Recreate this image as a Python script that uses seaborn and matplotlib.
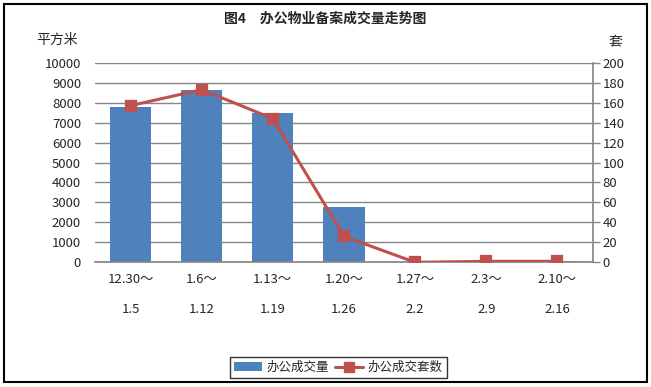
import numpy as np
import pandas as pd
import seaborn as sns
import matplotlib.pyplot as plt
from matplotlib.lines import Line2D
from matplotlib.patches import Patch, Rectangle

# data
periods = ['12.30～\n\n1.5', '1.6～\n\n1.12', '1.13～\n\n1.19', '1.20～\n\n1.26',
           '1.27～\n\n2.2', '2.3～\n\n2.9', '2.10～\n\n2.16']
area = [7780, 8650, 7500, 2790, 0, 0, 60]      # 平方米
units = [157, 173, 144, 26, 0, 1, 1]           # 套

sns.set_theme(style='white')
plt.rcParams['font.family'] = ['Noto Sans CJK SC', 'DejaVu Sans']

bar_color = '#4F81BD'
line_color = '#C0504D'
grid_color = '#868686'

df = pd.DataFrame({'period': periods, 'area': area, 'units': units})

fig = plt.figure(figsize=(6.51, 3.87), dpi=100)
ax = fig.add_axes([0.1459, 0.3222, 0.765, 0.5158])

sns.barplot(data=df, x='period', y='area', color=bar_color, width=0.58,
            saturation=1, linewidth=0, edgecolor='none', ax=ax, zorder=2)
ax.set_ylim(0, 10000)
ax.set_yticks(np.arange(0, 10001, 1000))
ax.yaxis.grid(True, color=grid_color, linewidth=1)
ax.set_axisbelow(True)
ax.set_xlabel('')
ax.set_ylabel('')
for s in ['top', 'left', 'right']:
    ax.spines[s].set_visible(False)
ax.spines['bottom'].set_color(grid_color)
ax.tick_params(axis='y', length=0, pad=10, labelsize=9.5)
ax.tick_params(axis='x', length=0, pad=8, labelsize=9.5)

ax2 = ax.twinx()
sns.pointplot(data=df, x='period', y='units', color=line_color, markers='s',
              markersize=7.5, linewidth=2.2, ax=ax2)
ax2.set_ylim(0, 200)
ax2.set_yticks(np.arange(0, 201, 20))
ax2.set_ylabel('')
ax2.set_xlabel('')
ax2.set_xlim(-0.5, 6.5)
ax.set_xlim(-0.5, 6.5)
for s in ['top', 'left', 'bottom']:
    ax2.spines[s].set_visible(False)
ax2.spines['right'].set_color(grid_color)
ax2.tick_params(axis='y', length=5, width=1, color=grid_color, pad=2,
                labelsize=9.5, direction='out')
ax2.grid(False)

fig.text(0.5, 0.953, '图4　办公物业备案成交量走势图', ha='center', va='center',
         fontsize=10, fontweight='bold')
fig.text(0.055, 0.897, '平方米', ha='left', va='center', fontsize=10)
fig.text(0.945, 0.89, '套', ha='center', va='center', fontsize=10)

handles = [Patch(facecolor=bar_color, edgecolor='none'),
           Line2D([0], [0], color=line_color, linewidth=2.2, marker='s',
                  markersize=7.5)]
leg = fig.legend(handles, ['办公成交量', '办公成交套数'], loc='center',
                 bbox_to_anchor=(0.52, 0.05), ncol=2, frameon=True,
                 fancybox=False, fontsize=9, handlelength=2.2,
                 columnspacing=0.5, handletextpad=0.4, borderpad=0.3)
leg.get_frame().set_edgecolor('black')
leg.get_frame().set_linewidth(1)

fig.patches.append(Rectangle((0.006, 0.013), 0.988, 0.977, transform=fig.transFigure,
                             fill=False, edgecolor='black', linewidth=1.5))

fig.savefig('out.png', dpi=100)
